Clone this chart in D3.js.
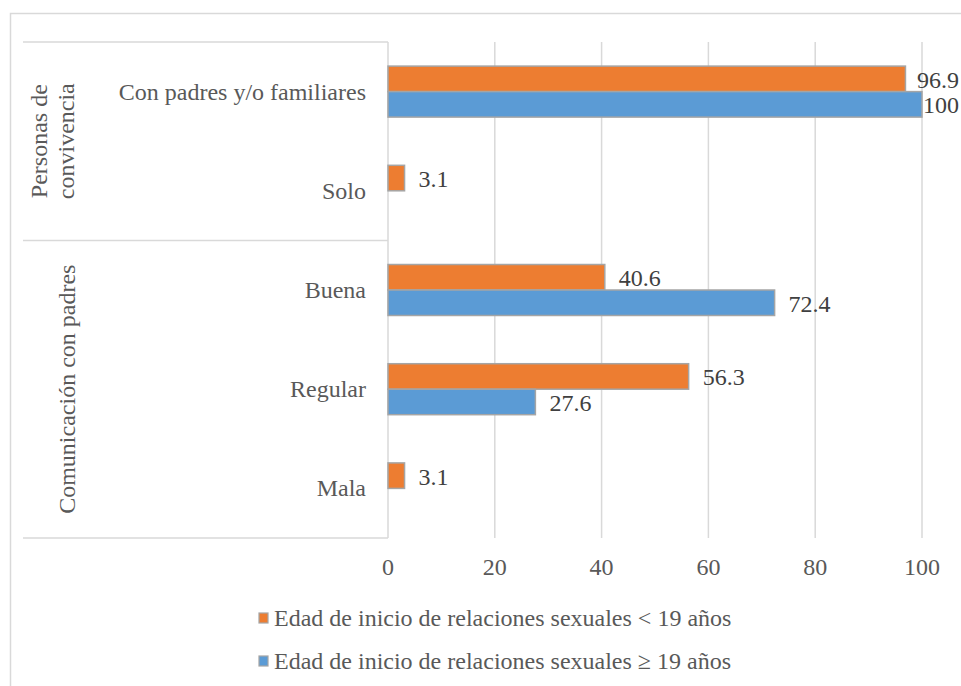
<!DOCTYPE html>
<html>
<head>
<meta charset="utf-8">
<script src="https://cdn.jsdelivr.net/npm/d3@7"></script>
<style>
  html, body { margin: 0; padding: 0; background: #fff; }
  svg { display: block; }
  text { font-family: "Liberation Serif", "Times New Roman", serif; }
</style>
</head>
<body>
<svg id="chart" width="961" height="686"></svg>
<script>
// ---- data ----
const categories = ["Con padres y/o familiares", "Solo", "Buena", "Regular", "Mala"];
const groupNames = [["Personas de", "convivencia"], ["Comunicación con padres"]];
const groupSizes = [2, 3];
const seriesNames = [
  "Edad de inicio de relaciones sexuales < 19 años",
  "Edad de inicio de relaciones sexuales \u2265 19 años"
];
const under19 = [96.9, 3.1, 40.6, 56.3, 3.1];
const over19 = [100, null, 72.4, 27.6, null];
const xTicks = [0, 20, 40, 60, 80, 100];

// ---- styling / layout ----
const colors = ["#ED7D31", "#5B9BD5"];
const gridColor = "#d9d9d9";
const textColor = "#595959";
const fontSize = 24;

const svg = d3.select("#chart");

// outer chart border
svg.append("rect")
  .attr("x", 10.5).attr("y", 13.5)
  .attr("width", 1200).attr("height", 1200)
  .attr("fill", "none").attr("stroke", gridColor).attr("stroke-width", 1.5);

const x = d3.scaleLinear().domain([0, 100]).range([388, 922]);
const pad = 0.486;
const y = d3.scaleBand().domain(categories).range([42, 538])
  .paddingInner(pad).paddingOuter(pad / 2);
const ySub = d3.scaleBand().domain([0, 1]).range([0, y.bandwidth()]);
const step = y.step();
const plotTop = y.range()[0];

// vertical gridlines
svg.append("g").selectAll("line").data(xTicks).join("line")
  .attr("x1", d => x(d)).attr("x2", d => x(d))
  .attr("y1", plotTop).attr("y2", y.range()[1])
  .attr("stroke", gridColor).attr("stroke-width", 1.5);

// x tick labels
svg.append("g").selectAll("text").data(xTicks).join("text")
  .attr("x", d => x(d)).attr("y", 575)
  .attr("text-anchor", "middle")
  .attr("font-size", fontSize).attr("fill", textColor)
  .text(d => d);

// category label box: group boundary lines
const boundaries = [0];
groupSizes.reduce((acc, n) => { boundaries.push(acc + n); return acc + n; }, 0);
svg.append("g").selectAll("line").data(boundaries).join("line")
  .attr("x1", 23).attr("x2", x(0))
  .attr("y1", d => plotTop + d * step).attr("y2", d => plotTop + d * step)
  .attr("stroke", gridColor).attr("stroke-width", 1.5);

// category labels
svg.append("g").selectAll("text").data(categories).join("text")
  .attr("x", 366)
  .attr("y", d => y(d) + y.bandwidth() / 2 + 8)
  .attr("text-anchor", "end")
  .attr("font-size", fontSize).attr("fill", textColor)
  .text(d => d);

// group labels (rotated)
groupNames.forEach((lines, gi) => {
  const start = boundaries[gi], end = boundaries[gi + 1];
  const cy = plotTop + (start + end) / 2 * step;
  const firstBase = 75 - (lines.length - 1) * 28;
  const t = svg.append("text")
    .attr("transform", `translate(${firstBase},${cy}) rotate(-90)`)
    .attr("text-anchor", "middle")
    .attr("font-size", fontSize).attr("fill", textColor);
  lines.forEach((ln, li) => {
    t.append("tspan").attr("x", 0).attr("y", li * 27).text(ln);
  });
});

// bars
const series = [under19, over19];
const rightLimit = 959;
series.forEach((vals, si) => {
  const data = categories.map((c, i) => ({ c, v: vals[i] })).filter(d => d.v != null);
  svg.append("g").selectAll("rect").data(data).join("rect")
    .attr("x", x(0))
    .attr("y", d => y(d.c) + ySub(si))
    .attr("width", d => x(d.v) - x(0))
    .attr("height", ySub.bandwidth())
    .attr("fill", colors[si])
    .attr("stroke", "#a5a5a5").attr("stroke-width", 1.5);
  svg.append("g").selectAll("text").data(data).join("text")
    .attr("y", d => y(d.c) + ySub(si) + ySub.bandwidth() / 2 + 9)
    .attr("font-size", fontSize).attr("fill", "#404040")
    .text(d => d.v)
    .attr("x", function(d) {
      const w = this.getComputedTextLength();
      return Math.min(x(d.v) + 14, x(100) + 6, rightLimit - w);
    });
});

// legend
const legendY = [626, 669];
seriesNames.forEach((name, i) => {
  svg.append("rect")
    .attr("x", 259).attr("y", legendY[i] - 13)
    .attr("width", 9).attr("height", 10)
    .attr("fill", colors[i]).attr("stroke", "#a5a5a5").attr("stroke-width", 1.2);
  svg.append("text")
    .attr("x", 274).attr("y", legendY[i])
    .attr("font-size", fontSize).attr("fill", textColor)
    .text(name);
});
</script>
</body>
</html>
